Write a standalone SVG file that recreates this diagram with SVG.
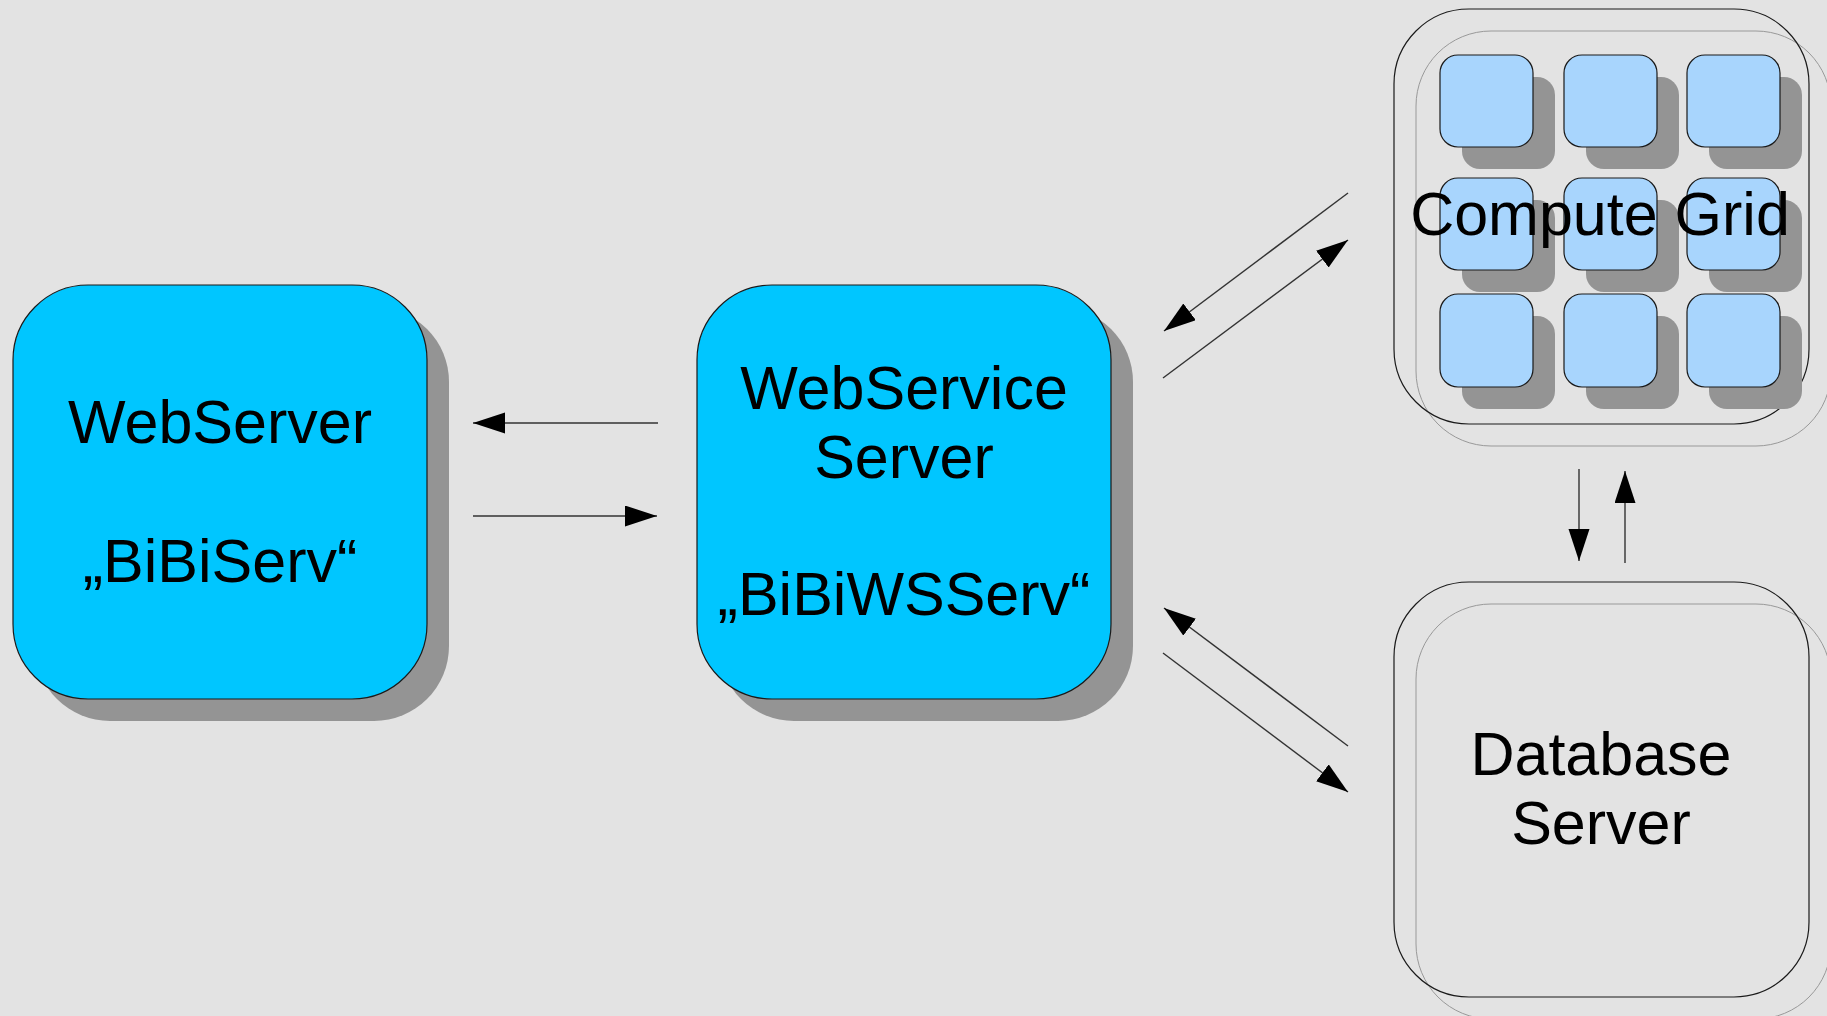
<svg xmlns="http://www.w3.org/2000/svg" width="1827" height="1016" viewBox="0 0 1827 1016">
<style>
.txt{font-family:"Liberation Sans",Arial,sans-serif;font-size:61px;fill:#000;text-anchor:middle}
.shadow{fill:#949494}
.main{fill:#00c6ff;stroke:#1a1a1a;stroke-width:1.2}
.outer{fill:none;stroke:#1a1a1a;stroke-width:1.2}
.ghost{fill:none;stroke:#999;stroke-width:1}
.cell{fill:#a8d5fd;stroke:#1a1a1a;stroke-width:1.2}
.conn{stroke:#333;stroke-width:1.4;fill:none;marker-end:url(#ah)}
</style>
<defs>
<marker id="ah" markerUnits="userSpaceOnUse" markerWidth="34" markerHeight="24" refX="32" refY="10.5" orient="auto">
<path d="M0,0 L32,10.5 L0,21 Z" fill="#000"/>
</marker>
</defs>
<rect width="1827" height="1016" fill="#e3e3e3"/>

<g id="webserver">
<rect class="shadow" x="35" y="307" width="414" height="414" rx="75"/>
<rect class="main" x="13" y="285" width="414" height="414" rx="75"/>
<text class="txt" x="220" y="443">WebServer</text>
<text class="txt" x="220" y="582">„BiBiServ“</text>
</g>

<g id="webservice-server">
<rect class="shadow" x="719" y="307" width="414" height="414" rx="75"/>
<rect class="main" x="697" y="285" width="414" height="414" rx="75"/>
<text class="txt" x="904" y="409">WebService</text>
<text class="txt" x="904" y="478">Server</text>
<text class="txt" x="904" y="615">„BiBiWSServ“</text>
</g>

<g id="compute-grid">
<rect class="ghost" x="1416" y="31" width="415" height="415" rx="75"/>
<rect class="outer" x="1394" y="9" width="415" height="415" rx="75"/>
<g class="shadow">
<rect x="1462" y="77" width="93" height="92" rx="18"/>
<rect x="1586" y="77" width="93" height="92" rx="18"/>
<rect x="1709" y="77" width="93" height="92" rx="18"/>
<rect x="1462" y="200" width="93" height="92" rx="18"/>
<rect x="1586" y="200" width="93" height="92" rx="18"/>
<rect x="1709" y="200" width="93" height="92" rx="18"/>
<rect x="1462" y="316" width="93" height="93" rx="18"/>
<rect x="1586" y="316" width="93" height="93" rx="18"/>
<rect x="1709" y="316" width="93" height="93" rx="18"/>
</g>
<rect class="cell" x="1440" y="55" width="93" height="92" rx="18"/>
<rect class="cell" x="1564" y="55" width="93" height="92" rx="18"/>
<rect class="cell" x="1687" y="55" width="93" height="92" rx="18"/>
<rect class="cell" x="1440" y="178" width="93" height="92" rx="18"/>
<rect class="cell" x="1564" y="178" width="93" height="92" rx="18"/>
<rect class="cell" x="1687" y="178" width="93" height="92" rx="18"/>
<rect class="cell" x="1440" y="294" width="93" height="93" rx="18"/>
<rect class="cell" x="1564" y="294" width="93" height="93" rx="18"/>
<rect class="cell" x="1687" y="294" width="93" height="93" rx="18"/>
<text class="txt" x="1600" y="235">Compute Grid</text>
</g>

<g id="database-server">
<rect class="ghost" x="1416" y="604" width="415" height="415" rx="75"/>
<rect class="outer" x="1394" y="582" width="415" height="415" rx="75"/>
<text class="txt" x="1601" y="775">Database</text>
<text class="txt" x="1601" y="844">Server</text>
</g>

<g id="connectors">
<line class="conn" x1="658" y1="423" x2="473" y2="423"/>
<line class="conn" x1="473" y1="516" x2="657" y2="516"/>
<line class="conn" x1="1348" y1="193" x2="1164" y2="331"/>
<line class="conn" x1="1163" y1="378" x2="1348" y2="240"/>
<line class="conn" x1="1348" y1="746" x2="1164" y2="608"/>
<line class="conn" x1="1163" y1="653" x2="1348" y2="792"/>
<line class="conn" x1="1579" y1="469" x2="1579" y2="561"/>
<line class="conn" x1="1625" y1="563" x2="1625" y2="471"/>
</g>
</svg>
